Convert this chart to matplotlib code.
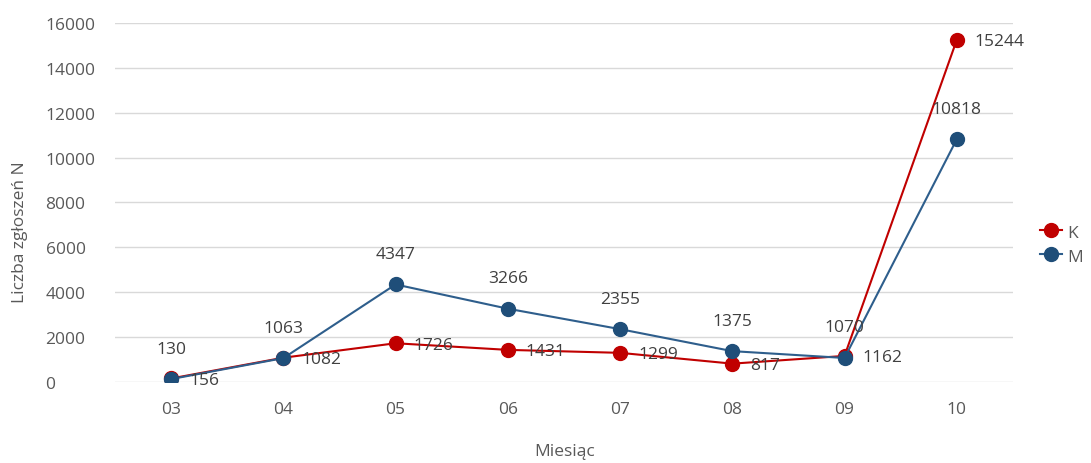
import matplotlib
matplotlib.use("Agg")
import matplotlib.pyplot as plt
from matplotlib.lines import Line2D

plt.rcParams['font.family'] = ['Open Sans', 'DejaVu Sans']

months = ["03", "04", "05", "06", "07", "08", "09", "10"]
k_values = [156, 1082, 1726, 1431, 1299, 817, 1162, 15244]
m_values = [130, 1063, 4347, 3266, 2355, 1375, 1070, 10818]
y_ticks = [0, 2000, 4000, 6000, 8000, 10000, 12000, 14000, 16000]

red = "#C00000"
blue = "#2E5E8C"
blue_marker = "#1F4E79"
label_color = "#404040"
tick_color = "#595959"
fs = 12.5

fig = plt.figure(figsize=(10.91, 4.64), dpi=100)
ax = fig.add_axes([0.1054, 0.1746, 0.823, 0.7737])

x = list(range(len(months)))
ax.plot(x, k_values, color=red, lw=1.5, marker="o", markersize=10,
        markerfacecolor=red, markeredgecolor=red, zorder=3)
ax.plot(x, m_values, color=blue, lw=1.5, marker="o", markersize=10,
        markerfacecolor=blue_marker, markeredgecolor=blue_marker, zorder=4)

for xi, v in zip(x, k_values):
    ax.annotate(str(v), (xi, v), xytext=(13, -1), textcoords="offset points",
                ha="left", va="center", fontsize=fs, color=label_color, zorder=5)
for xi, v in zip(x, m_values):
    ax.annotate(str(v), (xi, v), xytext=(0, 22), textcoords="offset points",
                ha="center", va="center", fontsize=fs, color=label_color, zorder=5)

ax.set_xlim(-0.5, len(months) - 0.5)
ax.set_ylim(0, 16000)
ax.set_yticks(y_ticks)
ax.set_yticklabels([str(t) for t in y_ticks], ha="left")
ax.set_xticks(x)
ax.set_xticklabels(months)
ax.yaxis.grid(True, color="#D9D9D9", lw=1)
ax.set_axisbelow(True)
for s in ax.spines.values():
    s.set_visible(False)
ax.tick_params(axis="both", length=0, labelsize=fs, labelcolor=tick_color)
ax.tick_params(axis="y", pad=50)
ax.tick_params(axis="x", pad=14)

fig.text(20 / 1091, 1 - 232 / 464, "Liczba zgłoszeń N", rotation=90,
         ha="center", va="center", fontsize=fs, color=tick_color)
fig.text(565 / 1091, 1 - 452 / 464, "Miesiąc", ha="center", va="center",
         fontsize=fs, color=tick_color)

handles = [
    Line2D([0], [0], color=red, lw=1.5, marker="o", markersize=10,
           markerfacecolor=red, markeredgecolor=red),
    Line2D([0], [0], color=blue, lw=1.5, marker="o", markersize=10,
           markerfacecolor=blue_marker, markeredgecolor=blue_marker),
]
fig.legend(handles, ["K", "M"], loc="center left", bbox_to_anchor=(0.9533, 0.471),
           frameon=False, fontsize=fs, labelcolor=tick_color, handlelength=1.25,
           handletextpad=0.3, borderpad=0, borderaxespad=0, labelspacing=0.45)

fig.savefig("out.png", dpi=100)
